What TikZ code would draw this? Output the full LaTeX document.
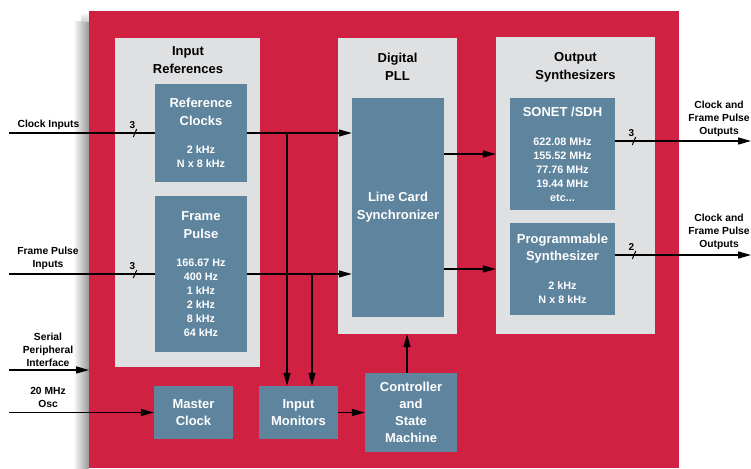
\documentclass[tikz,border=0pt]{standalone}
\usepackage{fontspec}
\setmainfont{Liberation Sans}
\usetikzlibrary{arrows.meta, calc}
\definecolor{adired}{RGB}{208,33,66}
\definecolor{panelgray}{RGB}{223,224,226}
\definecolor{blkblue}{RGB}{94,132,158}
% small frequency lines inside the blocks
\newcommand{\fq}{\fontsize{10.8}{14}\selectfont}
% bus width mark: slash on the wire plus its count
\newcommand{\busmark}[3]{%
  \draw[line width=1pt] (#1,#2) ++(-1.7,4) -- ++(3.4,-8);
  \node[busno] at (#1-2.5,#2-8) {#3};}

\begin{document}
\begin{tikzpicture}[
    x=1pt, y=-1pt,
    pnl/.style={fill=panelgray, inner sep=0pt},
    blk/.style={fill=blkblue, text=white, align=center, inner sep=0pt,
                font=\fontsize{13}{14}\selectfont\bfseries},
    ttl/.style={align=center, font=\fontsize{13}{18}\selectfont\bfseries},
    lbl/.style={align=center, inner sep=0pt, font=\fontsize{10.3}{13}\selectfont\bfseries},
    busno/.style={inner sep=0pt, font=\fontsize{10}{12}\selectfont\bfseries},
    wire/.style={line width=1.3pt},
    arr/.style={wire, -{Triangle[length=13pt,width=7pt]}}
  ]
  \useasboundingbox (0,0) rectangle (751,468);

  % chip outline with its drop shadow
  \shade[left color=white, right color=black!40] (73,22) rectangle (89,468);
  \shade[top color=white, bottom color=black!20] (81,12) rectangle (89,22);
  \node[fill=adired, inner sep=0pt, anchor=north west,
        minimum width=590pt, minimum height=457pt] (chip) at (89,11) {};

  % functional groups
  \node[pnl, minimum width=145pt, minimum height=329pt] (inref) at (187.5,202.5) {};
  \node[pnl, minimum width=119pt, minimum height=296pt] (dpll) at (397.5,186) {};
  \node[pnl, minimum width=159pt, minimum height=297pt] (outsyn) at (575.5,185.5) {};

  \node[ttl] (inreft) at (188,60) {Input\\References};
  \node[ttl] (dpllt) at (397.5,67) {Digital\\PLL};
  \node[ttl] (outsynt) at (575.5,67) {Output\\Synthesizers};

  % blocks
  \node[blk, minimum width=92pt, minimum height=98pt] (refclk) at (201,133)
    {Reference\\[4pt]Clocks\\[14pt]\fq 2 kHz\\\fq N x 8 kHz};
  \node[blk, minimum width=92pt, minimum height=156pt] (frmpls) at (201,274)
    {Frame\\[4pt]Pulse\\[14pt]\fq 166.67 Hz\\\fq 400 Hz\\\fq 1 kHz\\\fq 2 kHz\\\fq 8 kHz\\\fq 64 kHz};
  \node[blk, minimum width=92pt, minimum height=219pt] (lcs) at (398,207.5)
    {Line Card\\[4pt]Synchronizer};
  \node[blk, minimum width=105pt, minimum height=112pt] (sonet) at (562.5,154)
    {SONET /SDH\\[15pt]\fq 622.08 MHz\\\fq 155.52 MHz\\\fq 77.76 MHz\\\fq 19.44 MHz\\\fq etc...};
  \node[blk, minimum width=105pt, minimum height=92pt] (prog) at (562.5,269)
    {Programmable\\[3pt]Synthesizer\\[15pt]\fq 2 kHz\\\fq N x 8 kHz};
  \node[blk, minimum width=79pt, minimum height=53pt] (mclk) at (193.5,412.5)
    {Master\\[3pt]Clock};
  \node[blk, minimum width=79pt, minimum height=53pt] (inmon) at (298.5,412.5)
    {Input\\[3pt]Monitors};
  \node[blk, minimum width=92pt, minimum height=79pt] (ctrl) at (411,412.5)
    {Controller\\[3pt]and\\[3pt]State\\[3pt]Machine};

  % pin labels
  \node[lbl] (clkinl) at (48.5,125) {Clock Inputs};
  \node[lbl] (fpinl) at (48,258.5) {Frame Pulse\\Inputs};
  \node[lbl] (spil) at (48,349.5) {Serial\\Peripheral\\Interface};
  \node[lbl] (oscl) at (48,397.5) {20 MHz\\Osc};
  \node[lbl] (out1l) at (719,119) {Clock and\\Frame Pulse\\Outputs};
  \node[lbl] (out2l) at (719,232) {Clock and\\Frame Pulse\\Outputs};

  \coordinate (clkin) at (9,133);
  \coordinate (fpin) at (9,274);
  \coordinate (spiin) at (9,370);
  \coordinate (oscin) at (9,412.5);
  \coordinate (out1) at (751,141);
  \coordinate (out2) at (751,255);
  \coordinate (tap1) at (287,133);
  \coordinate (tap2) at (312,274);

  % signal paths
  \draw[wire] (clkin) -- (refclk);
  \draw[wire] (fpin) -- (fpin -| frmpls.west);
  \draw[arr] (spiin) -- (spiin -| chip.west);
  \draw[arr] (oscin) -- (mclk);
  \draw[arr] (refclk.east) -- (refclk.east -| lcs.west);
  \draw[arr] (fpin -| frmpls.east) -- (fpin -| lcs.west);
  \draw[arr] (tap1) -- (tap1 |- inmon.north);
  \draw[arr] (tap2) -- (tap2 |- inmon.north);
  \draw[arr] (inmon) -- (ctrl);
  \draw[arr] ([xshift=-4pt]ctrl.north) -- ([xshift=-4pt]ctrl.north |- dpll.south);
  \draw[arr] (lcs.east |- sonet) -- (outsyn.west |- sonet);
  \draw[arr] (lcs.east |- prog) -- (outsyn.west |- prog);
  \draw[arr] (sonet.east |- out1) -- (out1);
  \draw[arr] (prog.east |- out2) -- (out2);

  \busmark{135}{133}{3}
  \busmark{135}{274}{3}
  \busmark{634}{141}{3}
  \busmark{634}{255}{2}
\end{tikzpicture}
\end{document}
